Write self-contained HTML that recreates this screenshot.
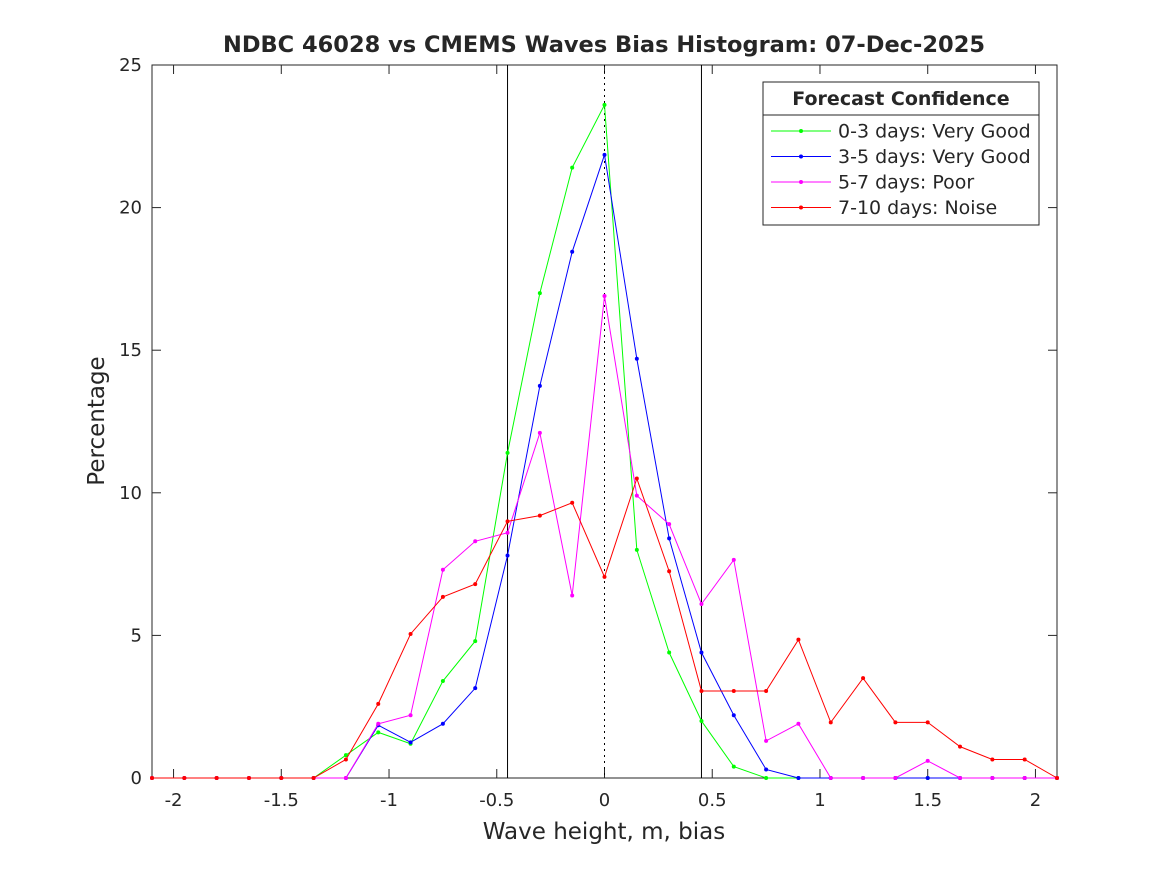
<!DOCTYPE html>
<html><head><meta charset="utf-8"><style>
body{margin:0;background:#fff;}
svg text{font-family:"DejaVu Sans","Liberation Sans",sans-serif;fill:#262626;}
</style></head><body>
<svg id="chart" width="1167" height="875" xmlns="http://www.w3.org/2000/svg">
<rect width="1167" height="875" fill="#fff"/>
<g id="g"></g>
</svg>
<script>
const xValues=[-2.1,-1.95,-1.8,-1.65,-1.5,-1.35,-1.2,-1.05,-0.9,-0.75,-0.6,-0.45,-0.3,-0.15,0,0.15,0.3,0.45,0.6,0.75,0.9,1.05,1.2,1.35,1.5,1.65,1.8,1.95,2.1];
const green=[0,0,0,0,0,0,0.8,1.6,1.2,3.4,4.8,11.4,17,21.4,23.6,8,4.4,2,0.4,0,0,0,0,0,0,0,0,0,0];
const blue=[0,0,0,0,0,0,0,1.85,1.25,1.9,3.15,7.8,13.75,18.45,21.85,14.7,8.4,4.4,2.2,0.3,0,0,0,0,0,0,0,0,0];
const magenta=[0,0,0,0,0,0,0,1.9,2.2,7.3,8.3,8.6,12.1,6.4,16.9,9.9,8.9,6.1,7.65,1.3,1.9,0,0,0,0.6,0,0,0,0];
const red=[0,0,0,0,0,0,0.65,2.6,5.05,6.35,6.8,9.0,9.2,9.65,7.05,10.5,7.25,3.05,3.05,3.05,4.85,1.95,3.5,1.95,1.95,1.1,0.65,0.65,0];
const xTicks=[-2,-1.5,-1,-0.5,0,0.5,1,1.5,2];
const yTicks=[0,5,10,15,20,25];
const legendLabels=["0-3 days: Very Good","3-5 days: Very Good","5-7 days: Poor","7-10 days: Noise"];
const seriesColors=["#00ff00","#0000ff","#ff00ff","#ff0000"];
const L=152,R=1057,T=65,B=778;
const xs=v=>L+(v+2.1)/4.2*(R-L);
const ys=v=>B-v/25*(B-T);
const g=document.getElementById('g');
const NS="http://www.w3.org/2000/svg";
function mk(t,a,p){const e=document.createElementNS(NS,t);for(const k in a)e.setAttribute(k,a[k]);(p||g).appendChild(e);return e;}
let e;
e=mk('rect',{x:L,y:T,width:R-L,height:B-T,fill:'#fff',stroke:'#262626','stroke-width':1});


xTicks.forEach(v=>{const x=xs(v);
mk('line',{x1:x,x2:x,y1:B,y2:B-9,stroke:'#262626'});mk('line',{x1:x,x2:x,y1:T,y2:T+9,stroke:'#262626'});
e=mk('text',{x:x,y:B+28,'font-size':18,'text-anchor':'middle'});e.textContent=String(v);

});
yTicks.forEach(v=>{const y=ys(v);
mk('line',{x1:L,x2:L+9,y1:y,y2:y,stroke:'#262626'});mk('line',{x1:R,x2:R-9,y1:y,y2:y,stroke:'#262626'});
e=mk('text',{x:L-10,y:y+6,'font-size':18,'text-anchor':'end'});e.textContent=String(v);

});
[-0.45,0.45].forEach(v=>{e=mk('line',{x1:xs(v),x2:xs(v),y1:T,y2:B,stroke:'#000'});

});
e=mk('line',{x1:xs(0),x2:xs(0),y1:T,y2:B,stroke:'#000','stroke-dasharray':'2,4'});


[green,blue,magenta,red].forEach((s,i)=>{
const pts=s.map((v,j)=>xs(xValues[j])+','+ys(v)).join(' ');
e=mk('polyline',{points:pts,fill:'none',stroke:seriesColors[i],'stroke-width':1});


s.forEach((v,j)=>{mk('circle',{cx:xs(xValues[j]),cy:ys(v),r:2,fill:seriesColors[i]});});
});
e=mk('text',{x:604,y:52,'font-size':22.5,'font-weight':'bold','text-anchor':'middle'});
e.textContent='NDBC 46028 vs CMEMS Waves Bias Histogram: 07-Dec-2025';


e=mk('text',{x:604,y:839,'font-size':23,'text-anchor':'middle'});
e.textContent='Wave height, m, bias';


e=mk('text',{x:0,y:0,'font-size':23,'text-anchor':'middle',transform:'translate(104,421) rotate(-90)'});
e.textContent='Percentage';


const lg=mk('g',{});


mk('rect',{x:763,y:82,width:276,height:143,fill:'#fff',stroke:'#262626'},lg);
mk('line',{x1:763,x2:1039,y1:115,y2:115,stroke:'#262626'},lg);
e=mk('text',{x:901,y:105,'font-size':19,'font-weight':'bold','text-anchor':'middle'},lg);
e.textContent='Forecast Confidence';


legendLabels.forEach((t,i)=>{const y=131+i*25.5;
mk('line',{x1:771,x2:831,y1:y,y2:y,stroke:seriesColors[i]},lg);
mk('circle',{cx:801,cy:y,r:2,fill:seriesColors[i]},lg);
e=mk('text',{x:838,y:y+6.5,'font-size':19},lg);e.textContent=t;

});
</script>
</body></html>
